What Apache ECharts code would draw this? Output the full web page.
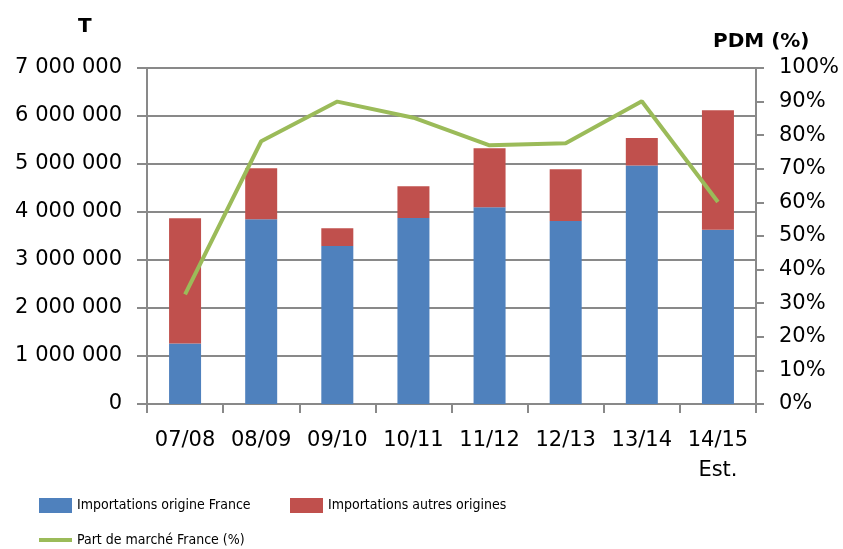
<!DOCTYPE html>
<html>
<head>
<meta charset="utf-8">
<script src="https://cdn.jsdelivr.net/npm/echarts@6/dist/echarts.min.js"></script>
<style>html,body{margin:0;padding:0;background:#fff}#c{width:843px;height:549px}</style>
</head>
<body>
<div id="c"></div>
<script>
const categories = ['07/08', '08/09', '09/10', '10/11', '11/12', '12/13', '13/14', '14/15\nEst.'];
const importFrance = [1260000, 3850000, 3290000, 3875000, 4100000, 3810000, 4970000, 3630000];
const importAutres = [2610000, 1060000, 370000, 660000, 1230000, 1080000, 570000, 2490000];
const partMarche = [32.6, 78.2, 90.0, 85.2, 77.0, 77.6, 90.1, 60.1];
const leftTicks = {min: 0, max: 7000000, interval: 1000000};
const rightTicks = {min: 0, max: 100, interval: 10};

const names = ['Importations origine France', 'Importations autres origines', 'Part de marché France (%)'];
const axisColor = '#898989';
const legendFont = {fontFamily: '"DejaVu Sans Condensed", sans-serif', fontSize: 14, fontWeight: 'normal', color: '#000'};

const chart = echarts.init(document.getElementById('c'), null, {renderer: 'canvas'});
chart.setOption({
  animation: false,
  backgroundColor: '#fff',
  title: [
    {text: 'T', left: 73, top: 12, textStyle: {fontFamily: 'DejaVu Sans', fontSize: 20, fontWeight: 'bold', color: '#000'}},
    {text: 'PDM (%)', left: 708, top: 27, textStyle: {fontFamily: 'DejaVu Sans', fontSize: 20, fontWeight: 'bold', color: '#000'}}
  ],
  grid: {left: 147, right: 87, top: 68, bottom: 145},
  legend: [
    {data: [names[0]], left: 34, top: 493, itemWidth: 33, itemHeight: 15, icon: 'rect', itemGap: 4, textStyle: legendFont},
    {data: [names[1]], left: 285, top: 493, itemWidth: 33, itemHeight: 15, icon: 'rect', itemGap: 4, textStyle: legendFont},
    {data: [names[2]], left: 34, top: 528, itemWidth: 33, itemHeight: 4, icon: 'rect', itemGap: 4, textStyle: legendFont}
  ],
  xAxis: {
    type: 'category',
    data: categories,
    boundaryGap: true,
    axisLine: {lineStyle: {color: axisColor, width: 2}},
    axisTick: {show: true, length: 9, lineStyle: {color: axisColor, width: 2}},
    axisLabel: {fontFamily: 'DejaVu Sans', fontSize: 21, color: '#000', margin: 22, lineHeight: 30, interval: 0}
  },
  yAxis: [
    {
      type: 'value', min: leftTicks.min, max: leftTicks.max, interval: leftTicks.interval,
      axisLine: {show: true, lineStyle: {color: axisColor, width: 2}},
      axisTick: {show: true, length: 10, lineStyle: {color: axisColor, width: 2}},
      splitLine: {show: true, lineStyle: {color: axisColor, width: 2}},
      axisLabel: {fontFamily: 'DejaVu Sans', fontSize: 21, color: '#000', margin: 25,
        formatter: v => String(v).replace(/\B(?=(\d{3})+(?!\d))/g, ' ')}
    },
    {
      type: 'value', min: rightTicks.min, max: rightTicks.max, interval: rightTicks.interval,
      position: 'right',
      axisLine: {show: true, lineStyle: {color: axisColor, width: 2}},
      axisTick: {show: true, length: 8, lineStyle: {color: axisColor, width: 2}},
      splitLine: {show: false},
      axisLabel: {fontFamily: 'DejaVu Sans', fontSize: 21, color: '#000', margin: 23, formatter: '{value}%'}
    }
  ],
  series: [
    {name: names[0], type: 'bar', stack: 'imp', data: importFrance, barWidth: 32, itemStyle: {color: '#4f81bd'}},
    {name: names[1], type: 'bar', stack: 'imp', data: importAutres, barWidth: 32, itemStyle: {color: '#c0504d'}},
    {name: names[2], type: 'line', yAxisIndex: 1, data: partMarche, symbol: 'none', z: 5,
      itemStyle: {color: '#9bbb59'}, lineStyle: {color: '#9bbb59', width: 4}}
  ]
});
</script>
</body>
</html>
